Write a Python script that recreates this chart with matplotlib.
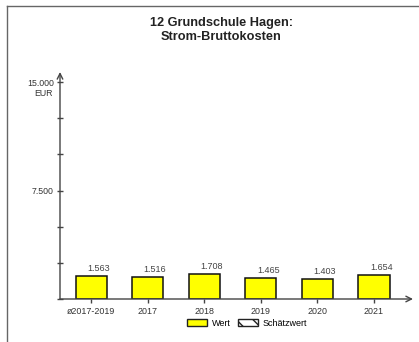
import matplotlib
matplotlib.use("Agg")
import matplotlib.pyplot as plt
from matplotlib.patches import Patch
from matplotlib.lines import Line2D

categories = ["ø2017-2019", "2017", "2018", "2019", "2020", "2021"]
values = [1563, 1516, 1708, 1465, 1403, 1654]
value_labels = ["1.563", "1.516", "1.708", "1.465", "1.403", "1.654"]
tick_values = [0, 2500, 5000, 7500, 10000, 12500, 15000]

W, H = 419, 342
fig = plt.figure(figsize=(W / 100, H / 100), dpi=100)
plt.rcParams['font.family'] = ['Liberation Sans', 'DejaVu Sans']

# axes placed in pixel terms: y-axis at x=60, x-axis at y=299
ax = fig.add_axes([60 / W, 43 / H, (413 - 60) / W, (299 - 72) / H])
ymax = 15000 + 10 * 15000 / 217
ax.set_ylim(0, ymax)
ax.set_xlim(-0.55, 5.69)

x = range(len(categories))
ax.bar(x, values, width=0.55, color='#ffff00', edgecolor='#111111', linewidth=1.1, zorder=3)
for xi, v, lab in zip(x, values, value_labels):
    ax.text(xi + 0.13, v + 220, lab, ha='center', va='bottom', fontsize=6.5, color='#444444')

for s in ax.spines.values():
    s.set_visible(False)

# axis lines with arrows
ax.annotate('', xy=(1.0, 0), xytext=(0, 0), xycoords='axes fraction',
            arrowprops=dict(arrowstyle='->', color='#444444', lw=1.0, shrinkA=0, shrinkB=0))
ax.annotate('', xy=(0, 1.0), xytext=(0, 0), xycoords='axes fraction',
            arrowprops=dict(arrowstyle='->', color='#444444', lw=1.0, shrinkA=0, shrinkB=0))

ax.set_yticks(tick_values)
ax.set_yticklabels(['' if t not in (7500, 15000) else f"{t:,}".replace(',', '.') for t in tick_values])
ax.tick_params(axis='y', direction='inout', length=5, width=1, color='#444444',
               labelsize=6.3, labelcolor='#333333', pad=2)
ax.text(-0.02, 15000 - 450, 'EUR', transform=ax.get_yaxis_transform(), ha='right', va='top',
        fontsize=6.3, color='#333333')

ax.set_xticks(list(x))
ax.set_xticklabels(categories)
ax.tick_params(axis='x', direction='out', length=3, width=1, color='#444444',
               labelsize=6.4, labelcolor='#333333', pad=3)

fig.text(221 / W, 1 - 30 / H, '12 Grundschule Hagen:\nStrom-Bruttokosten', ha='center', va='center',
         fontsize=9.2, fontweight='bold', color='#222222', linespacing=1.15)

handles = [Patch(facecolor='#ffff00', edgecolor='#222222', label='Wert'),
           Patch(facecolor='white', edgecolor='#222222', hatch='\\\\', label='Schätzwert')]
fig.legend(handles=handles, loc='center', bbox_to_anchor=(247 / W, 1 - 323 / H), ncol=2,
           frameon=False, fontsize=6.5, handlelength=2.2, handleheight=0.7,
           handletextpad=0.5, columnspacing=0.8)

# frame lines on left and top
fig.add_artist(Line2D([7 / W, 7 / W], [0, 1 - 6 / H], transform=fig.transFigure, color='#666666', lw=1))
fig.add_artist(Line2D([7 / W, 1], [1 - 6 / H, 1 - 6 / H], transform=fig.transFigure, color='#666666', lw=1))

fig.savefig('out.png', dpi=100)
